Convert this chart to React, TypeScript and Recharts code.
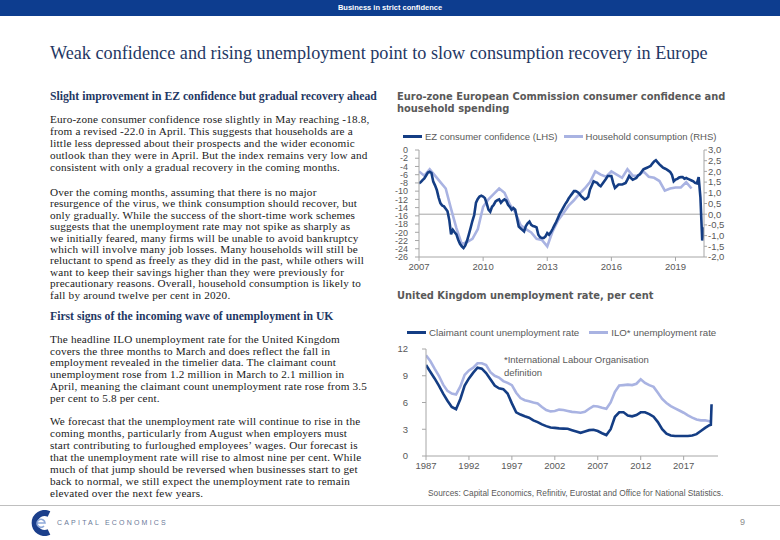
import React from "react";
import { LineChart, Line, XAxis, YAxis, ReferenceLine } from "recharts";

const NAVY = "#143d84";
const LAVENDER = "#a9b3e2";
const HEAD_NAVY = "#1f3864";
const GREY_TEXT = "#595959";
const AXIS_GREY = "#a6a6a6";

// EC consumer confidence, euro-zone, monthly Jan 2007 - May 2020 (LHS)
const CONF_START = 2007;
const confidence = [
  -8.1, -7.8, -7.3, -6.9, -6.2, -5.5, -5.3, -5.6, -7.7, -8.6, -9.7, -11.5, // 2007
  -12.9, -13.5, -13.7, -14.3, -14.9, -17.0, -20.5, -19.4, -20.0, -20.5, -21.8, -22.8, // 2008
  -23.4, -23.8, -23.2, -22.0, -20.5, -18.9, -17.2, -15.8, -12.8, -11.9, -11.3, -11.1, // 2009
  -11.3, -11.7, -13.0, -14.5, -15.0, -13.8, -13.3, -12.5, -12.2, -12.0, -12.8, -12.3, // 2010
  -12.0, -12.3, -13.3, -13.8, -14.5, -14.1, -14.5, -16.5, -18.6, -19.0, -19.4, -19.8, // 2011
  -18.5, -17.8, -17.4, -18.2, -18.5, -18.6, -18.8, -20.6, -21.2, -21.4, -21.4, -21.0, // 2012
  -20.2, -20.6, -20.0, -19.2, -18.3, -17.5, -16.5, -15.5, -14.8, -14.0, -13.2, -12.6, // 2013
  -11.8, -11.2, -10.6, -10.0, -10.0, -10.2, -10.6, -11.2, -11.6, -12.0, -11.8, -11.4, // 2014
  -9.6, -8.6, -7.6, -7.8, -8.0, -8.5, -8.8, -8.2, -7.6, -7.0, -6.3, -6.3, // 2015
  -6.3, -8.0, -9.2, -8.8, -8.4, -8.4, -8.4, -8.2, -8.0, -7.2, -6.3, -6.8, // 2016
  -7.2, -7.0, -6.8, -6.2, -5.9, -5.3, -4.7, -4.5, -4.3, -4.1, -3.9, -3.3, // 2017
  -2.8, -2.5, -3.0, -3.5, -3.9, -4.3, -4.5, -4.7, -5.0, -5.3, -6.0, -7.6, // 2018
  -7.2, -7.0, -6.7, -6.6, -6.6, -7.0, -6.8, -7.0, -7.2, -7.4, -7.6, -8.0, // 2019
  -8.1, -6.6, -11.6, -22.0, -18.8, // 2020
];

// Household consumption, % y/y, quarterly Q1 2007 - Q4 2019 (RHS)
const consumption = [
  2.0, 1.8, 2.1, 1.8,
  1.5, 1.2, 0.25, -0.65,
  -1.4, -1.3, -1.15, -0.7,
  0.35, 0.7, 0.95, 1.2,
  1.0, 0.45, 0.1, -0.5,
  -0.7, -0.85, -1.15, -1.2,
  -1.5, -0.8, -0.3, 0.05,
  0.4, 0.65, 0.95, 1.2,
  1.5, 2.0, 1.85, 1.75,
  2.0, 1.85, 1.7, 2.1,
  1.8, 1.8, 2.0, 1.75,
  1.7, 1.55, 1.1, 1.2,
  1.25, 1.25, 1.5, 1.2,
];

const ezYearTicks = [2007, 2010, 2013, 2016, 2019];
const confTicks = [0, -2, -4, -6, -8, -10, -12, -14, -16, -18, -20, -22, -24, -26];
const consTicks = [3, 2.5, 2, 1.5, 1, 0.5, 0, -0.5, -1, -1.5, -2];

// UK unemployment rate, %, half-yearly 1987 - 2020
const UK_START = 1987;
const claimant = [
  10.2, 9.45, 8.7, 7.9, 7.0, 6.2, 5.5, 5.25, 6.4, 7.9, // 1987-1991
  8.7, 9.35, 9.9, 9.8, 9.3, 8.6, 7.9, 7.6, 7.5, 7.0, // 1992-1996
  5.9, 4.9, 4.65, 4.45, 4.3, 4.0, 3.8, 3.55, 3.35, 3.2, // 1997-2001
  3.15, 3.1, 3.07, 3.05, 2.9, 2.75, 2.6, 2.75, 2.9, 2.95, // 2002-2006
  2.8, 2.55, 2.35, 3.0, 4.4, 4.9, 4.9, 4.55, 4.45, 4.6, // 2007-2011
  4.9, 4.9, 4.7, 4.4, 3.8, 3.0, 2.5, 2.3, 2.25, 2.25, // 2012-2016
  2.25, 2.25, 2.3, 2.45, 2.8, 3.15, // 2017-2019
  3.45, // 2020
];
const ilo = [
  11.3, 10.65, 9.8, 9.0, 8.0, 7.3, 7.0, 6.9, 7.8, 9.1, // 1987-1991
  9.6, 9.9, 10.4, 10.4, 10.2, 9.4, 9.0, 8.8, 8.4, 8.2, // 1992-1996
  7.95, 7.1, 6.5, 6.25, 6.15, 6.0, 5.9, 5.5, 5.15, 5.0, // 1997-2001
  5.05, 5.2, 5.15, 5.05, 4.95, 4.9, 4.85, 4.95, 5.3, 5.6, // 2002-2006
  5.55, 5.4, 5.3, 6.0, 7.2, 7.9, 7.95, 8.0, 7.95, 8.1, // 2007-2011
  8.6, 8.2, 7.95, 7.75, 7.1, 6.4, 5.95, 5.6, 5.35, 5.1, // 2012-2016
  4.85, 4.55, 4.3, 4.1, 4.0, 4.0, // 2017-2019
  3.9, // 2020
];
// latest monthly readings: March and April 2020
const latestMonths = [2020 + 2 / 12, 2020 + 3 / 12];
const claimantLatest = [3.5, 5.8];
const iloLatest = [3.9];

const ukYearTicks = [1987, 1992, 1997, 2002, 2007, 2012, 2017];
const ukRateTicks = [0, 3, 6, 9, 12];

const confData = confidence.map((v, i) => ({ t: CONF_START + i / 12, v }));
const consData = consumption.map((v, i) => ({ t: CONF_START + i / 4, v }));
const claimantData = [
  ...claimant.map((v, i) => ({ t: UK_START + i / 2, v })),
  ...claimantLatest.map((v, i) => ({ t: latestMonths[i], v })),
];
const iloData = [
  ...ilo.map((v, i) => ({ t: UK_START + i / 2, v })),
  ...iloLatest.map((v, i) => ({ t: latestMonths[i], v })),
];

const sans = "'Liberation Sans', Arial, sans-serif";
const serif = "'Liberation Serif', 'Times New Roman', serif";
const tickStyle = { fontSize: 9.5, fill: GREY_TEXT, fontFamily: sans };
const smallTick = { fontSize: 9, fill: GREY_TEXT, fontFamily: sans };
const commaFmt = (v: number) => v.toFixed(1).replace(".", ",");

function LegendItem({ color, label, gap }: { color: string; label: string; gap: number }) {
  return (
    <span style={{ display: "inline-flex", alignItems: "center", marginRight: gap }}>
      <span style={{ width: 19, height: 3, background: color, marginRight: 3 }} />
      <span>{label}</span>
    </span>
  );
}

function Para({ top, lh, lines }: { top: number; lh: number; lines: string[] }) {
  return (
    <div
      style={{
        position: "absolute",
        left: 50,
        top,
        fontFamily: serif,
        fontSize: 11.2,
        letterSpacing: 0.18,
        lineHeight: `${lh}px`,
        color: "#1a1a1a",
        whiteSpace: "nowrap",
      }}
    >
      {lines.map((l, i) => (
        <div key={i}>{l}</div>
      ))}
    </div>
  );
}

function Heading({ top, text }: { top: number; text: string }) {
  return (
    <div
      style={{
        position: "absolute",
        left: 50,
        top,
        fontFamily: serif,
        fontWeight: "bold",
        fontSize: 11.7,
        lineHeight: "12px",
        color: HEAD_NAVY,
        whiteSpace: "nowrap",
      }}
    >
      {text}
    </div>
  );
}

export default function App() {
  return (
    <div
      style={{
        position: "absolute",
        left: 0,
        top: 0,
        width: 780,
        height: 540,
        background: "#fff",
        overflow: "hidden",
      }}
    >
      <div
        style={{
          height: 16,
          background: "#0d3d8f",
          color: "#fff",
          fontFamily: sans,
          fontWeight: "bold",
          fontSize: 7.5,
          lineHeight: "16px",
          textAlign: "center",
        }}
      >
        Business in strict confidence
      </div>

      <div
        style={{
          position: "absolute",
          left: 50,
          top: 43,
          fontFamily: serif,
          fontSize: 18.2,
          lineHeight: "20px",
          color: HEAD_NAVY,
          whiteSpace: "nowrap",
        }}
      >
        Weak confidence and rising unemployment point to slow consumption recovery in Europe
      </div>

      <Heading top={91} text="Slight improvement in EZ confidence but gradual recovery ahead" />
      <Para
        top={113}
        lh={12}
        lines={[
          "Euro-zone consumer confidence rose slightly in May reaching -18.8,",
          "from a revised -22.0 in April. This suggests that households are a",
          "little less depressed about their prospects and the wider economic",
          "outlook than they were in April. But the index remains very low and",
          "consistent with only a gradual recovery in the coming months.",
        ]}
      />
      <Para
        top={187}
        lh={11.4}
        lines={[
          "Over the coming months, assuming that there is no major",
          "resurgence of the virus, we think consumption should recover, but",
          "only gradually. While the success of the short-time work schemes",
          "suggests that the unemployment rate may not spike as sharply as",
          "we initially feared, many firms will be unable to avoid bankruptcy",
          "which will involve many job losses. Many households will still be",
          "reluctant to spend as freely as they did in the past, while others will",
          "want to keep their savings higher than they were previously for",
          "precautionary reasons. Overall, household consumption is likely to",
          "fall by around twelve per cent in 2020.",
        ]}
      />
      <Heading top={311} text="First signs of the incoming wave of unemployment in UK" />
      <Para
        top={334}
        lh={11.7}
        lines={[
          "The headline ILO unemployment rate for the United Kingdom",
          "covers the three months to March and does reflect the fall in",
          "employment revealed in the timelier data. The claimant count",
          "unemployment rose from 1.2 million in March to 2.1 million in",
          "April, meaning the claimant count unemployment rate rose from 3.5",
          "per cent to 5.8 per cent.",
        ]}
      />
      <Para
        top={414.5}
        lh={12}
        lines={[
          "We forecast that the unemployment rate will continue to rise in the",
          "coming months, particularly from August when employers must",
          "start contributing to furloughed employees\u2019 wages. Our forecast is",
          "that the unemployment rate will rise to almost nine per cent. While",
          "much of that jump should be reversed when businesses start to get",
          "back to normal, we still expect the unemployment rate to remain",
          "elevated over the next few years.",
        ]}
      />

      {/* Euro-zone chart */}
      <div
        style={{
          position: "absolute",
          left: 397,
          top: 91,
          fontFamily: "'DejaVu Sans', sans-serif",
          fontWeight: "bold",
          fontSize: 9.9,
          lineHeight: "12px",
          color: GREY_TEXT,
          whiteSpace: "nowrap",
        }}
      >
        <div>Euro-zone European Commission consumer confidence and</div>
        <div>household spending</div>
      </div>
      <div
        style={{
          position: "absolute",
          left: 403,
          top: 131,
          fontFamily: sans,
          fontSize: 9.5,
          color: GREY_TEXT,
          whiteSpace: "nowrap",
          display: "flex",
        }}
      >
        <LegendItem color={NAVY} label="EZ consumer confidence (LHS)" gap={6} />
        <LegendItem color={LAVENDER} label="Household consumption (RHS)" gap={0} />
      </div>
      <div style={{ position: "absolute", left: 380, top: 140 }}>
        <LineChart width={355} height={140} margin={{ top: 10, right: 3, bottom: 3, left: 15 }}>
          <XAxis
            type="number"
            dataKey="t"
            domain={[2007, 2020 + 4 / 12]}
            ticks={ezYearTicks}
            interval={0}
            allowDataOverflow
            height={20}
            tick={tickStyle}
            tickSize={4}
            tickMargin={2}
            stroke={AXIS_GREY}
          />
          <YAxis
            yAxisId="lhs"
            domain={[-26, 0]}
            ticks={confTicks}
            interval={0}
            width={24}
            tick={smallTick}
            tickSize={4}
            tickMargin={7}
            stroke={AXIS_GREY}
          />
          <YAxis
            yAxisId="rhs"
            orientation="right"
            domain={[-2, 3]}
            ticks={consTicks}
            interval={0}
            width={28}
            tick={tickStyle}
            tickSize={3}
            tickMargin={1}
            tickFormatter={commaFmt}
            stroke={AXIS_GREY}
          />
          <ReferenceLine yAxisId="rhs" y={0} stroke={AXIS_GREY} strokeWidth={1} />
          <Line
            yAxisId="rhs"
            data={consData}
            dataKey="v"
            stroke={LAVENDER}
            strokeWidth={2.6}
            dot={false}
            isAnimationActive={false}
          />
          <Line
            yAxisId="lhs"
            data={confData}
            dataKey="v"
            stroke={NAVY}
            strokeWidth={2.6}
            dot={false}
            isAnimationActive={false}
          />
        </LineChart>
      </div>

      {/* UK chart */}
      <div
        style={{
          position: "absolute",
          left: 397,
          top: 290,
          fontFamily: "'DejaVu Sans', sans-serif",
          fontWeight: "bold",
          fontSize: 9.9,
          lineHeight: "12px",
          color: GREY_TEXT,
          whiteSpace: "nowrap",
        }}
      >
        United Kingdom unemployment rate, per cent
      </div>
      <div
        style={{
          position: "absolute",
          left: 407,
          top: 327,
          fontFamily: sans,
          fontSize: 9.7,
          color: GREY_TEXT,
          whiteSpace: "nowrap",
          display: "flex",
        }}
      >
        <LegendItem color={NAVY} label="Claimant count unemployment rate" gap={10} />
        <LegendItem color={LAVENDER} label="ILO* unemployment rate" gap={0} />
      </div>
      <div
        style={{
          position: "absolute",
          left: 504,
          top: 354,
          fontFamily: sans,
          fontSize: 9.5,
          lineHeight: "12.5px",
          color: GREY_TEXT,
          whiteSpace: "nowrap",
        }}
      >
        <div>*International Labour Organisation</div>
        <div>definition</div>
      </div>
      <div style={{ position: "absolute", left: 380, top: 340 }}>
        <LineChart width={345} height={135} margin={{ top: 9, right: 7, bottom: 2, left: 10 }}>
          <XAxis
            type="number"
            dataKey="t"
            domain={[1987, 2021]}
            ticks={ukYearTicks}
            interval={0}
            allowDataOverflow
            height={17}
            tick={tickStyle}
            tickSize={4}
            tickMargin={2}
            stroke={AXIS_GREY}
          />
          <YAxis
            domain={[0, 12]}
            ticks={ukRateTicks}
            interval={0}
            width={36}
            tick={tickStyle}
            tickSize={4}
            tickMargin={14}
            stroke={AXIS_GREY}
          />
          <Line
            data={iloData}
            dataKey="v"
            stroke={LAVENDER}
            strokeWidth={2.6}
            dot={false}
            isAnimationActive={false}
          />
          <Line
            data={claimantData}
            dataKey="v"
            stroke={NAVY}
            strokeWidth={2.6}
            dot={false}
            isAnimationActive={false}
          />
        </LineChart>
      </div>
      <div
        style={{
          position: "absolute",
          left: 428,
          top: 488,
          fontFamily: "'Liberation Sans Narrow', 'Liberation Sans', sans-serif",
          fontSize: 8.3,
          color: GREY_TEXT,
          whiteSpace: "nowrap",
        }}
      >
        Sources: Capital Economics, Refinitiv, Eurostat and Office for National Statistics.
      </div>

      {/* footer */}
      <div style={{ position: "absolute", left: 0, top: 505, width: 780, height: 1, background: "#bfbfbf" }} />
      <svg style={{ position: "absolute", left: 30, top: 510 }} width={24} height={26}>
        <path d="M19 4 A10 10 0 1 0 19 22" fill="none" stroke="#1b3f8b" strokeWidth={6} />
        <path d="M8 13 H15 A4 4 0 1 0 14 16" fill="none" stroke="#8fa9d9" strokeWidth={1.6} />
      </svg>
      <div
        style={{
          position: "absolute",
          left: 57,
          top: 519,
          fontFamily: sans,
          fontSize: 7,
          letterSpacing: 2.2,
          color: "#6b7a99",
          whiteSpace: "nowrap",
        }}
      >
        CAPITAL ECONOMICS
      </div>
      <div
        style={{
          position: "absolute",
          left: 740,
          top: 517,
          fontFamily: sans,
          fontSize: 9,
          color: "#8c8c8c",
        }}
      >
        9
      </div>
    </div>
  );
}
